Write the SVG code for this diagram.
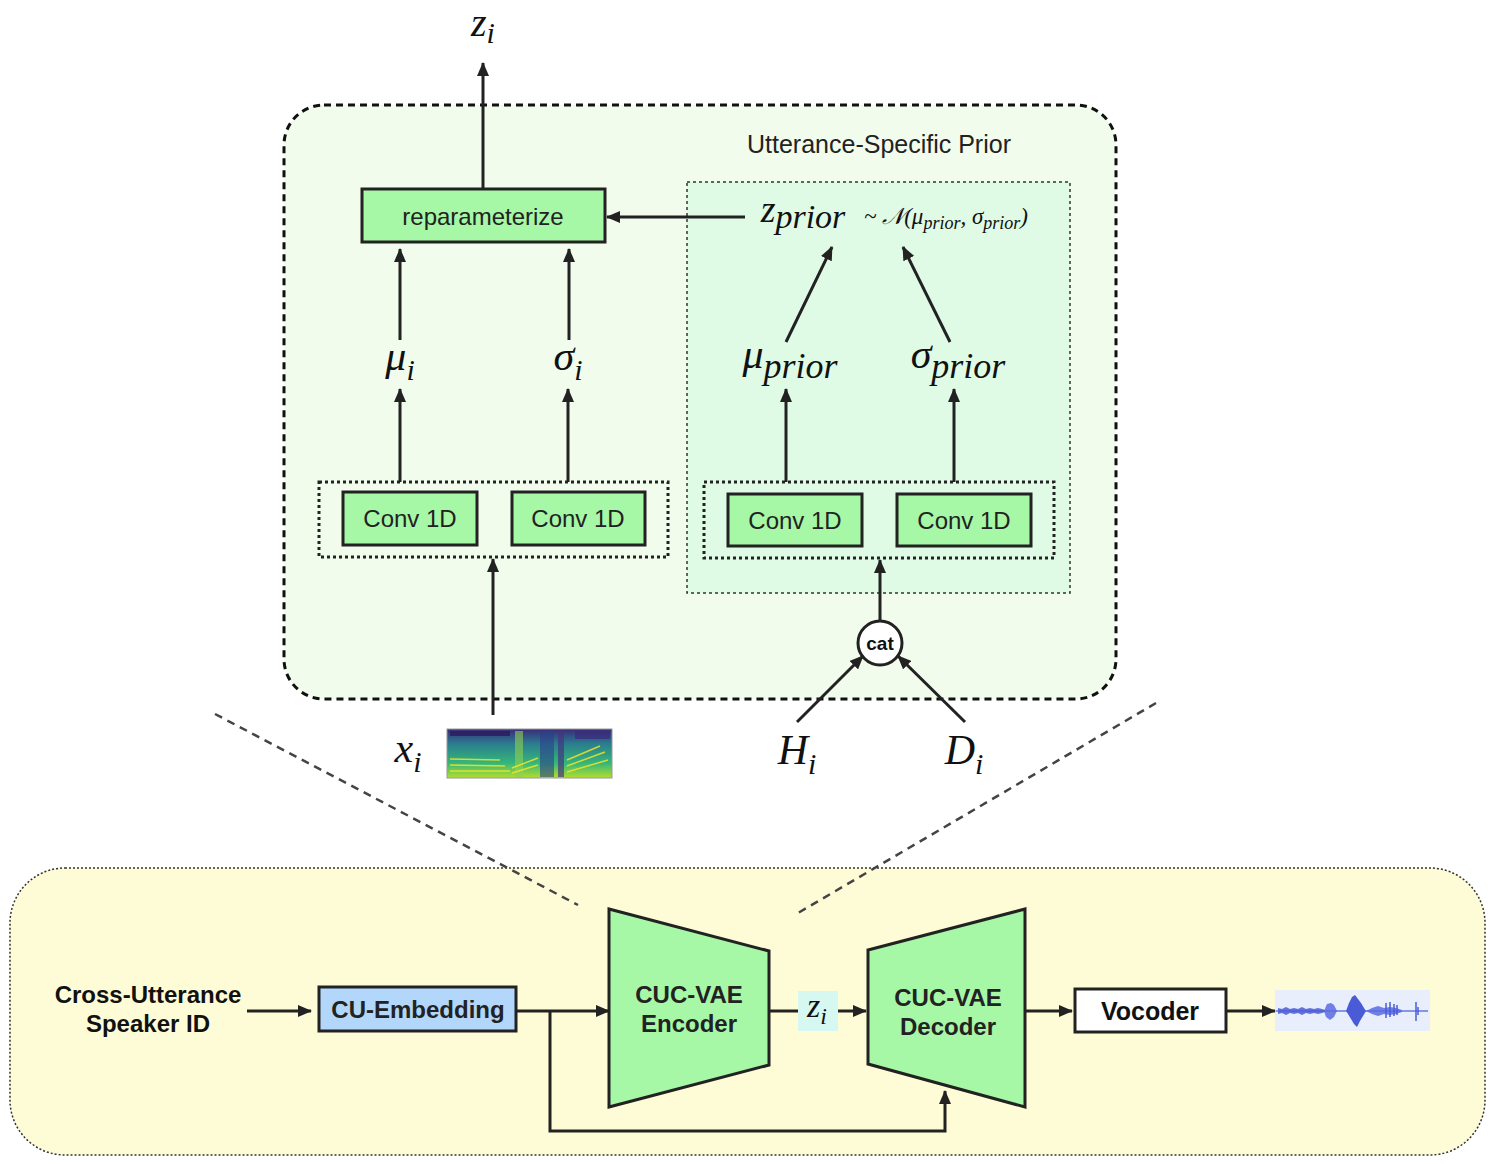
<svg xmlns="http://www.w3.org/2000/svg" width="1495" height="1164" viewBox="0 0 1495 1164">
<style>
.box{fill:#a6f7a6;stroke:#222;stroke-width:3}
.lbl{font-family:"Liberation Sans",Arial,sans-serif;font-size:24px;fill:#222;text-anchor:middle}
.bold{font-weight:bold;fill:#111}
.math{font-family:"Liberation Serif","Times New Roman",serif;font-style:italic;fill:#111;text-anchor:middle}
.ln{stroke:#222;stroke-width:3;fill:none}
.dot{fill:none;stroke:#222;stroke-width:3;stroke-dasharray:3 3}
</style>
<defs>
<marker id="ah" markerWidth="14" markerHeight="12" refX="13" refY="6" orient="auto" markerUnits="userSpaceOnUse">
<path d="M0,0 L14,6 L0,12 Z" fill="#222"/>
</marker>
<linearGradient id="spec" x1="0" y1="0" x2="0" y2="1">
<stop offset="0" stop-color="#3b2a7a"/>
<stop offset="0.3" stop-color="#2a7d8e"/>
<stop offset="0.7" stop-color="#35b779"/>
<stop offset="1" stop-color="#b5de2b"/>
</linearGradient>
</defs>
<rect width="1495" height="1164" fill="#fff"/>

<g id="top-panel">
<rect x="284" y="105" width="832" height="594" rx="40" fill="#f1fcec" stroke="#111" stroke-width="3" stroke-dasharray="7 5"/>
<text class="lbl" x="879" y="153" style="font-size:25px">Utterance-Specific Prior</text>
</g>
<g id="prior-box">
<rect x="687" y="182" width="383" height="411" fill="#dffbe6" stroke="#333" stroke-width="1.5" stroke-dasharray="3 3"/>
</g>

<g id="reparameterize">
<rect class="box" x="362" y="189" width="243" height="53"/>
<text class="lbl" x="483" y="225">reparameterize</text>
</g>

<g id="zi-top"><text class="math" x="483" y="36" font-size="40">z<tspan font-size="30" dy="7">i</tspan></text></g>
<g id="mu-i"><text class="math" x="400" y="370" font-size="42">μ<tspan font-size="30" dy="10">i</tspan></text></g>
<g id="sigma-i"><text class="math" x="568" y="370" font-size="42">σ<tspan font-size="30" dy="10">i</tspan></text></g>
<g id="mu-prior"><text class="math" x="790" y="368" font-size="42">μ<tspan font-size="36" dy="10">prior</tspan></text></g>
<g id="sigma-prior"><text class="math" x="958" y="368" font-size="42">σ<tspan font-size="36" dy="10">prior</tspan></text></g>
<g id="z-prior">
<text class="math" x="803" y="222" font-size="38">z<tspan font-size="34" dy="6">prior</tspan></text>
<text class="math" x="946" y="224" font-size="23">~ 𝒩(μ<tspan font-size="18" dy="5">prior</tspan><tspan dy="-5">, σ</tspan><tspan font-size="18" dy="5">prior</tspan><tspan dy="-5">)</tspan></text>
</g>

<g id="conv-left">
<rect class="dot" x="319" y="482" width="349" height="75"/>
<rect class="box" x="343" y="492" width="134" height="53"/>
<text class="lbl" x="410" y="527">Conv 1D</text>
<rect class="box" x="512" y="492" width="133" height="53"/>
<text class="lbl" x="578" y="527">Conv 1D</text>
</g>
<g id="conv-right">
<rect class="dot" x="704" y="482" width="350" height="76"/>
<rect class="box" x="728" y="494" width="134" height="52"/>
<text class="lbl" x="795" y="529">Conv 1D</text>
<rect class="box" x="897" y="494" width="134" height="52"/>
<text class="lbl" x="964" y="529">Conv 1D</text>
</g>

<g id="cat">
<circle cx="880" cy="643" r="22" fill="#fff" stroke="#222" stroke-width="3"/>
<text class="lbl bold" x="880" y="650" style="font-size:19px">cat</text>
</g>

<g id="xi"><text class="math" x="408" y="762" font-size="42">x<tspan font-size="30" dy="10">i</tspan></text></g>
<g id="Hi"><text class="math" x="797" y="764" font-size="42">H<tspan font-size="30" dy="10">i</tspan></text></g>
<g id="Di"><text class="math" x="964" y="764" font-size="42">D<tspan font-size="30" dy="10">i</tspan></text></g>

<g id="spectrogram">
<rect x="447" y="729" width="165" height="49" fill="url(#spec)" stroke="#999" stroke-width="1"/>
<rect x="450" y="731" width="60" height="5" fill="#2b1a5e" opacity="0.8"/>
<rect x="515" y="731" width="8" height="46" fill="#8fd14f" opacity="0.6"/>
<rect x="540" y="731" width="14" height="46" fill="#2b3f8a" opacity="0.6"/>
<rect x="558" y="731" width="6" height="46" fill="#45357f" opacity="0.7"/>
<rect x="575" y="731" width="35" height="8" fill="#3b2a7a" opacity="0.7"/>
<g stroke="#fde725" stroke-width="1.5" opacity="0.8">
<line x1="450" y1="771" x2="510" y2="771"/><line x1="450" y1="765" x2="505" y2="766"/><line x1="450" y1="759" x2="500" y2="760"/>
<line x1="512" y1="768" x2="538" y2="758"/><line x1="512" y1="773" x2="538" y2="765"/>
<line x1="567" y1="772" x2="608" y2="760"/><line x1="567" y1="766" x2="605" y2="752"/><line x1="567" y1="760" x2="600" y2="746"/>
</g>
</g>

<g id="bottom-panel">
<rect x="10" y="868" width="1475" height="287" rx="55" fill="#fefcd7" stroke="#333" stroke-width="1.5" stroke-dasharray="2 2"/>
</g>

<g id="guide-lines" stroke="#444" stroke-width="2.5" stroke-dasharray="8 6" fill="none">
<line x1="215" y1="714" x2="578" y2="905"/>
<line x1="1156" y1="703" x2="798" y2="913"/>
</g>

<g id="speaker-id">
<text class="lbl bold" x="148" y="1003">Cross-Utterance</text>
<text class="lbl bold" x="148" y="1032">Speaker ID</text>
</g>
<g id="cu-embedding">
<rect x="319" y="987" width="197" height="44" fill="#b3d6fb" stroke="#222" stroke-width="3"/>
<text class="lbl bold" x="418" y="1018" style="fill:#222">CU-Embedding</text>
</g>
<g id="encoder">
<path d="M609,909 L769,951 L769,1065 L609,1107 Z" fill="#a6f7a6" stroke="#222" stroke-width="3"/>
<text class="lbl bold" x="689" y="1003" style="fill:#222">CUC-VAE</text>
<text class="lbl bold" x="689" y="1032" style="fill:#222">Encoder</text>
</g>
<g id="zi-bottom">
<rect x="798" y="991" width="40" height="40" fill="#d6f8f0"/>
<text class="math" x="817" y="1017" font-size="34">z<tspan font-size="24" dy="7">i</tspan></text>
</g>
<g id="decoder">
<path d="M868,950 L1025,909 L1025,1107 L868,1064 Z" fill="#a6f7a6" stroke="#222" stroke-width="3"/>
<text class="lbl bold" x="948" y="1006" style="fill:#222">CUC-VAE</text>
<text class="lbl bold" x="948" y="1035" style="fill:#222">Decoder</text>
</g>
<g id="vocoder">
<rect x="1075" y="989" width="151" height="43" fill="#fff" stroke="#222" stroke-width="3"/>
<text class="lbl bold" x="1150" y="1020" style="font-size:25px">Vocoder</text>
</g>
<g id="waveform">
<rect x="1275" y="990" width="155" height="41" fill="#e8eefc"/>
<path d="M1276,1011 L1428,1011" stroke="#6677dd" stroke-width="1.5"/>
<path d="M1278,1008 L1282,1009 L1286,1007 L1290,1009 L1294,1008 L1298,1009 L1302,1007 L1306,1009 L1310,1008 L1314,1009 L1318,1008 L1322,1009 L1325,1010 L1325,1012 L1322,1013 L1318,1014 L1314,1013 L1310,1014 L1306,1013 L1302,1015 L1298,1013 L1294,1014 L1290,1013 L1286,1015 L1282,1013 L1278,1014 Z" fill="#4a5bd8" opacity="0.85"/>
<path d="M1324,1011 L1327,1004 L1331,1003 L1334,1005 L1337,1011 L1334,1017 L1330,1020 L1326,1017 Z" fill="#5a6be0" opacity="0.85"/>
<path d="M1346,1011 L1349,1003 L1352,997 L1355,995 L1358,999 L1361,1003 L1364,1008 L1366,1011 L1363,1016 L1360,1021 L1357,1027 L1354,1024 L1351,1019 L1348,1014 Z" fill="#4a5bd8"/>
<path d="M1366,1011 L1372,1008 L1378,1006 L1384,1008 L1390,1007 L1396,1008 L1402,1010 L1402,1012 L1396,1014 L1390,1015 L1384,1014 L1378,1016 L1372,1014 Z" fill="#5a6be0" opacity="0.85"/>
<g stroke="#4a5bd8" stroke-width="1.5"><line x1="1386" y1="1003" x2="1386" y2="1018"/><line x1="1390" y1="1002" x2="1390" y2="1017"/><line x1="1394" y1="1004" x2="1394" y2="1016"/><line x1="1397" y1="1005" x2="1397" y2="1015"/><line x1="1416" y1="1002" x2="1416" y2="1021"/><line x1="1418" y1="1007" x2="1418" y2="1015"/></g>
</g>

<g id="connectors" class="ln">
<line class="ln" x1="483" y1="188" x2="483" y2="63" marker-end="url(#ah)"/>
<line class="ln" x1="745" y1="217" x2="607" y2="217" marker-end="url(#ah)"/>
<line class="ln" x1="400" y1="340" x2="400" y2="249" marker-end="url(#ah)"/>
<line class="ln" x1="569" y1="340" x2="569" y2="249" marker-end="url(#ah)"/>
<line class="ln" x1="400" y1="482" x2="400" y2="389" marker-end="url(#ah)"/>
<line class="ln" x1="568" y1="482" x2="568" y2="389" marker-end="url(#ah)"/>
<line class="ln" x1="493" y1="715" x2="493" y2="559" marker-end="url(#ah)"/>
<line class="ln" x1="786" y1="482" x2="786" y2="389" marker-end="url(#ah)"/>
<line class="ln" x1="954" y1="482" x2="954" y2="389" marker-end="url(#ah)"/>
<line class="ln" x1="786" y1="342" x2="832" y2="247" marker-end="url(#ah)"/>
<line class="ln" x1="950" y1="342" x2="903" y2="247" marker-end="url(#ah)"/>
<line class="ln" x1="880" y1="621" x2="880" y2="560" marker-end="url(#ah)"/>
<line class="ln" x1="797" y1="722" x2="863" y2="656" marker-end="url(#ah)"/>
<line class="ln" x1="965" y1="722" x2="898" y2="656" marker-end="url(#ah)"/>
<line class="ln" x1="247" y1="1011" x2="311" y2="1011" marker-end="url(#ah)"/>
<line class="ln" x1="516" y1="1011" x2="609" y2="1011" marker-end="url(#ah)"/>
<polyline class="ln" points="550,1011 550,1131 945,1131 945,1091" marker-end="url(#ah)"/>
<line class="ln" x1="769" y1="1011" x2="798" y2="1011"/>
<line class="ln" x1="838" y1="1011" x2="866" y2="1011" marker-end="url(#ah)"/>
<line class="ln" x1="1025" y1="1011" x2="1072" y2="1011" marker-end="url(#ah)"/>
<line class="ln" x1="1226" y1="1011" x2="1275" y2="1011" marker-end="url(#ah)"/>
</g>
</svg>
